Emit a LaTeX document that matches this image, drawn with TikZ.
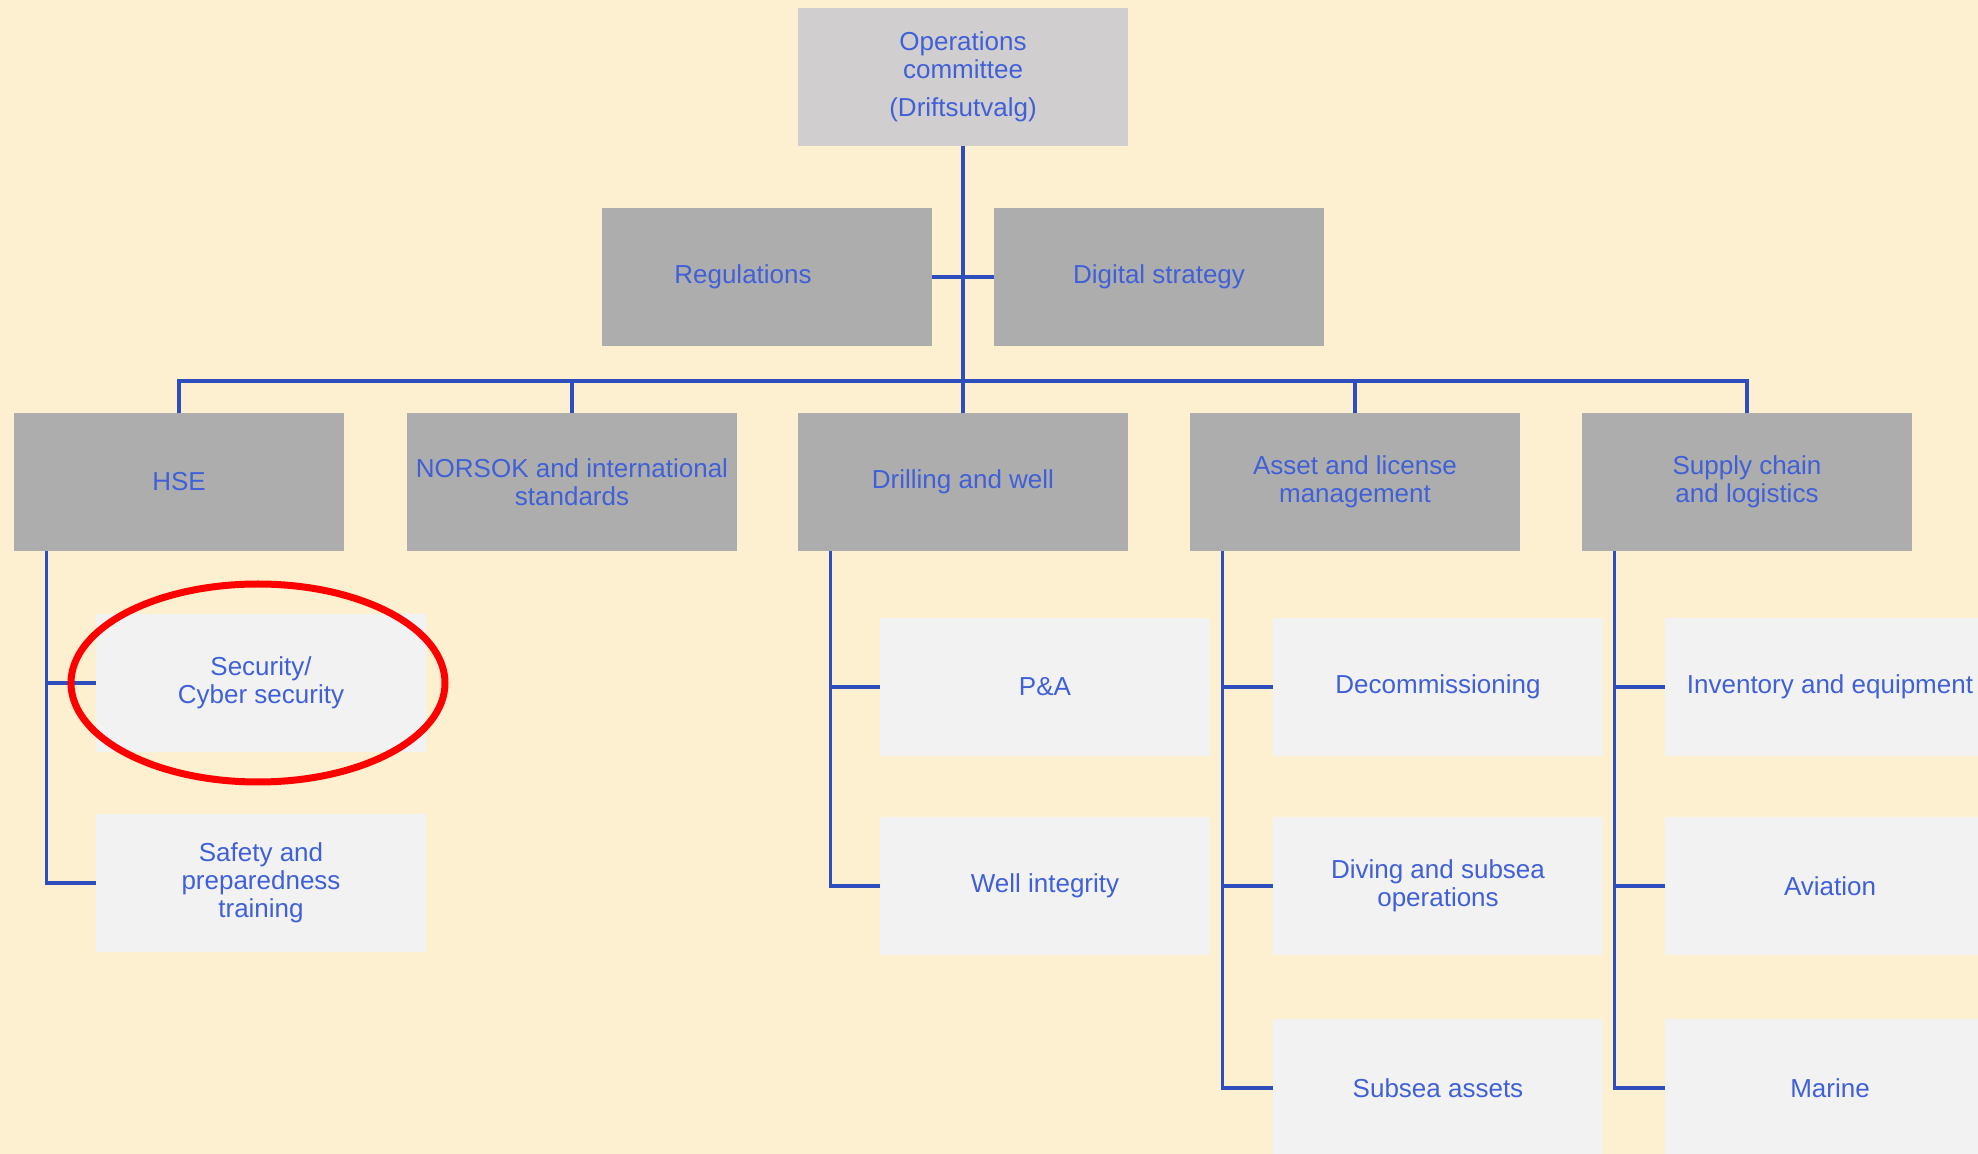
\documentclass[tikz,border=0pt]{standalone}
\usepackage{fontspec}
\setmainfont{Liberation Sans}
\usetikzlibrary{positioning,calc}

\definecolor{bgcream}{RGB}{253,240,208}
\definecolor{topgray}{RGB}{208,206,206}
\definecolor{boxgray}{RGB}{173,173,173}
\definecolor{subgray}{RGB}{242,242,242}
\definecolor{txtblue}{RGB}{64,96,216}
\definecolor{lineblue}{RGB}{46,78,190}

\begin{document}
\begin{tikzpicture}[
  x=0.5pt, y=-0.5pt,
  font=\fontsize{13pt}{14pt}\selectfont,
  link/.style={draw=lineblue, line width=1.6pt},
  orgbox/.style={rectangle, minimum width=165pt, minimum height=69pt, inner sep=0pt, align=center, text=txtblue},
  topbox/.style={orgbox, fill=topgray},
  mainbox/.style={orgbox, fill=boxgray},
  subbox/.style={orgbox, fill=subgray}
]

\useasboundingbox (0,0) rectangle (1978,1154);
\fill[bgcream] (0,0) rectangle (1978,1154);

% top and staff units
\node[topbox] (ops) at (963,77) {Operations\\committee\\[5pt](Driftsutvalg)};
\node[mainbox] (reg) at (767,277) {Regulations\hspace*{24pt}};
\node[mainbox] (dig) at (1159,277) {Digital strategy};

% departments
\node[mainbox] (hse) at (179,482) {HSE};
\node[mainbox] (norsok) at (572,482) {NORSOK and international\\standards};
\node[mainbox] (drill) at (963,482) {Drilling and well};
\node[mainbox] (asset) at (1355,482) {Asset and license\\management};
\node[mainbox] (supply) at (1747,482) {Supply chain\\and logistics};

% groups
\node[subbox] (sec) at (261,683) {Security/\\Cyber security};
\node[subbox] (safe) at (261,883) {Safety and\\preparedness\\training};
\node[subbox] (pa) at (1045,687) {P\&A};
\node[subbox] (well) at (1045,886) {Well integrity};
\node[subbox] (decom) at (1438,687) {Decommissioning};
\node[subbox] (dive) at (1438,886) {Diving and subsea\\operations};
\node[subbox] (subsea) at (1438,1088) {Subsea assets};
\node[subbox] (inv) at (1830,687) {Inventory and equipment};
\node[subbox] (avi) at (1830,886) {Aviation};
\node[subbox] (mar) at (1830,1088) {Marine};

\coordinate (bus) at (963,381);

\draw[link] (ops) -- (drill);
\draw[link] (reg) -- (dig);
\draw[link] (hse.north) |- (bus) -| (supply.north);
\draw[link] (norsok.north) |- (bus);
\draw[link] (asset.north) |- (bus);

\foreach \p/\c in {hse/sec, hse/safe, drill/pa, drill/well, asset/decom, asset/dive, asset/subsea, supply/inv, supply/avi, supply/mar} {
  \draw[link] ([xshift=16.5pt]\p.south west) |- (\c.west);
}

% highlight
\draw[draw=red, line width=3.5pt] ([xshift=-1.5pt]sec.center) ellipse [x radius=93.5pt, y radius=49.5pt];

\end{tikzpicture}
\end{document}
